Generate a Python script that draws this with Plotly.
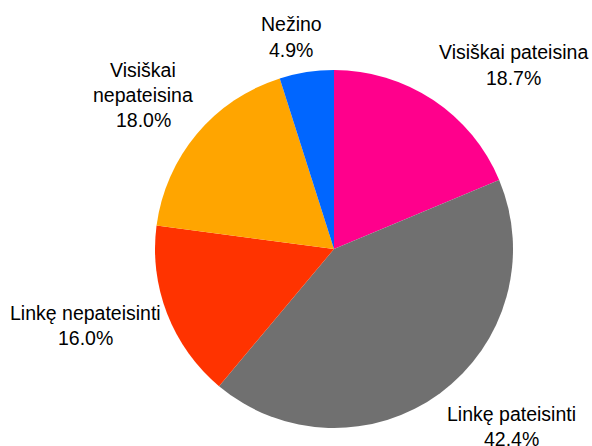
import plotly.graph_objects as go

categories = ["Visiškai pateisina", "Linkę pateisinti", "Linkę nepateisinti",
              "Visiškai nepateisina", "Nežino"]
values = [18.7, 42.4, 16.0, 18.0, 4.9]
colors = ["#FF008C", "#707070", "#FF3300", "#FFA500", "#0066FF"]

# label text lines and their placement (pixel centers in the 592x446 canvas)
label_lines = [
    ["Visiškai pateisina", "18.7%"],
    ["Linkę pateisinti", "42.4%"],
    ["Linkę nepateisinti", "16.0%"],
    ["Visiškai", "nepateisina", "18.0%"],
    ["Nežino", "4.9%"],
]
label_centers = [(513, 65), (511, 426), (86, 325), (143, 95), (291, 37)]
LINE_H = 25

W, H = 592, 446

fig = go.Figure(go.Pie(
    labels=categories,
    values=values,
    marker=dict(colors=colors, line=dict(width=0)),
    sort=False,
    direction="clockwise",
    rotation=0,
    textinfo="none",
    hoverinfo="label+percent",
    domain=dict(x=[155 / W, 513 / W], y=[1 - 428 / H, 1 - 70 / H]),
    showlegend=False,
))

annotations = []
for lines, (cx, cy) in zip(label_lines, label_centers):
    n = len(lines)
    for i, line in enumerate(lines):
        y_px = cy + (i - (n - 1) / 2) * LINE_H
        annotations.append(dict(
            x=cx / W, y=1 - y_px / H, xref="paper", yref="paper",
            text=line, showarrow=False, xanchor="center", yanchor="middle",
            font=dict(family="Liberation Sans, Arial, sans-serif", size=19.5, color="#000000"),
        ))

fig.update_layout(
    width=W, height=H,
    margin=dict(l=0, r=0, t=0, b=0),
    paper_bgcolor="white", plot_bgcolor="white",
    annotations=annotations,
)

fig.write_html("out.html", config={"displayModeBar": False},
               post_script="document.body.style.margin='0';")
